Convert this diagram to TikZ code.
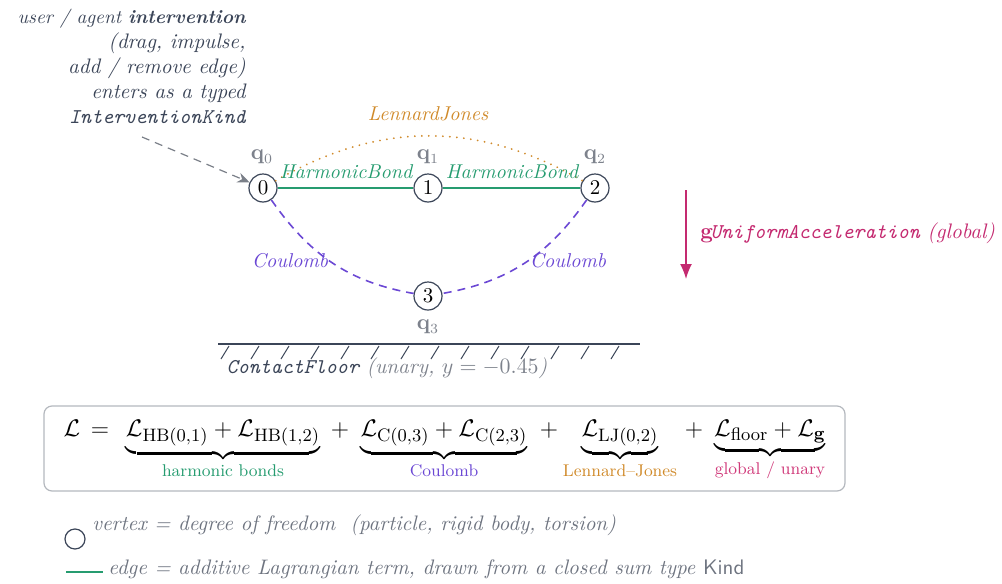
\documentclass[tikz,border=0pt]{standalone}
\usepackage{amsmath}
\usetikzlibrary{arrows.meta}
\definecolor{slate}{HTML}{3B4558}
\definecolor{qgrey}{HTML}{7D828C}
\definecolor{hb}{HTML}{269C70}
\definecolor{lj}{HTML}{D08A2A}
\definecolor{cou}{HTML}{6B48D4}
\definecolor{grav}{HTML}{C42A70}
\definecolor{glob}{HTML}{D03A7A}
\definecolor{leg}{HTML}{6E7480}
\definecolor{boxc}{HTML}{B4B8BE}
\definecolor{ivgrey}{HTML}{7A7F88}
\begin{document}
\begin{tikzpicture}[x=0.5pt,y=0.5pt,
  vert/.style={circle,draw=slate,line width=0.6pt,minimum size=14pt,inner sep=0pt,
    font=\fontsize{10.5}{12}\selectfont},
  qlab/.style={text=qgrey,font=\fontsize{10.5}{12}\selectfont},
  elab/.style={font=\fontsize{10}{12}\selectfont\itshape},
  hbline/.style={draw=hb,line width=1.2pt},
  couline/.style={draw=cou,line width=0.8pt,dash pattern=on 4pt off 3pt},
  ljline/.style={draw=lj,line width=1pt,dash pattern=on 0.01pt off 3.5pt,line cap=round},
  eq/.style={font=\fontsize{12.5}{15}\selectfont,inner sep=0pt},
  legtext/.style={text=leg,font=\fontsize{10.5}{12}\selectfont\itshape,inner sep=0pt}]
\useasboundingbox (0,0) rectangle (1002,-584);

% intervention text
\node[align=right,anchor=east,text=slate,font=\fontsize{10.5}{12.5}\selectfont\itshape,inner sep=0pt]
  (iv) at (246,-66) {{\fontsize{9.6}{12.5}\selectfont user / agent \textbf{intervention}}\\(drag, impulse,\\add / remove edge)\\enters as a typed\\\texttt{\itshape InterventionKind}};

% vertices
\node[vert] (n0) at (263,-188) {0};
\node[vert] (n1) at (428,-188) {1};
\node[vert] (n2) at (595,-188) {2};
\node[vert] (n3) at (428,-296) {3};

\node[qlab] (q0) at (262,-157) {$\mathbf{q}_0$};
\node[qlab] (q1) at (428,-157) {$\mathbf{q}_1$};
\node[qlab] (q2) at (595,-157) {$\mathbf{q}_2$};
\node[qlab] (q3) at (428,-327) {$\mathbf{q}_3$};

% intervention arrow
\coordinate (ivs) at (142,-137);
\draw[ivgrey,line width=0.6pt,dash pattern=on 4pt off 3pt,-{Stealth[length=6pt,width=5pt]}] (ivs) -- (n0);

% edges
\draw[ljline] (n0) to[bend left=30] (n2);
\draw[hbline] (n0) -- (n1);
\draw[hbline] (n1) -- (n2);
\draw[couline] (n0) to[out=-55,in=170] (n3);
\draw[couline] (n2) to[out=-125,in=10] (n3);

\node[elab,text=hb] (hb1) at (346,-172) {HarmonicBond};
\node[elab,text=hb] (hb2) at (512,-172) {HarmonicBond};
\node[elab,text=lj] (ljl) at (428,-114) {LennardJones};
\node[elab,text=cou] (c1) at (290,-261) {Coulomb};
\node[elab,text=cou] (c2) at (568,-261) {Coulomb};

% floor
\coordinate (f1) at (218,-344);
\coordinate (f2) at (640,-344);
\draw[slate,line width=0.6pt] (f1) -- (f2);
\foreach \i in {0,...,13}{
  \draw[slate,line width=0.5pt] (229+30*\i,-346) -- (221+30*\i,-359);
}
\node[font=\fontsize{10.5}{12}\selectfont\itshape,inner sep=0pt] (fl) at (387,-368)
  {\textcolor{slate}{\texttt{\itshape ContactFloor}} \textcolor{qgrey}{(unary, $y=-0.45$)}};

% gravity
\coordinate (g1) at (686,-190);
\coordinate (g2) at (686,-279);
\draw[grav,line width=0.75pt,-{Latex[length=7.5pt,width=6pt]}] (g1) -- (g2);
\node[anchor=west,text=grav,inner sep=0pt,font=\fontsize{10.5}{12}\selectfont] (gl) at (700,-233)
  {$\mathbf{g}$\hspace{-1.5pt}\texttt{\itshape UniformAcceleration} \textit{(global)}};

% Lagrangian box
\draw[boxc,line width=0.6pt,rounded corners=4pt] (44,-406) rectangle (845,-491);
\node[eq,anchor=base] (eL) at (72,-436) {$\mathcal{L}$};
\node[eq,anchor=base] (eeq) at (100,-436) {$=$};
\node[eq,anchor=base] (gr1) at (223,-436) {$\underbrace{\mathcal{L}_{\mathrm{HB}(0,1)}+\mathcal{L}_{\mathrm{HB}(1,2)}}_{\text{\fontsize{8.5}{10}\selectfont\color{hb}harmonic bonds}}$};
\node[eq,anchor=base] (p1) at (340,-436) {$+$};
\node[eq,anchor=base] (gr2) at (444,-436) {$\underbrace{\mathcal{L}_{\mathrm{C}(0,3)}+\mathcal{L}_{\mathrm{C}(2,3)}}_{\text{\fontsize{8.5}{10}\selectfont\color{cou}Coulomb}}$};
\node[eq,anchor=base] (p2) at (549,-436) {$+$};
\node[eq,anchor=base] (gr3) at (620,-436) {$\underbrace{\mathcal{L}_{\mathrm{LJ}(0,2)}}_{\text{\fontsize{8.5}{10}\selectfont\color{lj}Lennard--Jones}}$};
\node[eq,anchor=base] (p3) at (694,-436) {$+$};
\node[eq,anchor=base] (gr4) at (770,-436) {$\underbrace{\mathcal{L}_{\mathrm{floor}}+\mathcal{L}_{\mathbf{g}}}_{\text{\fontsize{8.5}{10}\selectfont\color{glob}global / unary}}$};

% legend
\node[circle,draw=slate,line width=0.6pt,minimum size=10pt,inner sep=0pt] (lv) at (75,-539) {};
\node[legtext,anchor=west] (lvt) at (92,-525) {vertex = degree of freedom\ \ (particle, rigid body, torsion)};
\coordinate (le1) at (66,-572);
\coordinate (le2) at (103,-572);
\draw[hbline,line width=1pt] (le1) -- (le2);
\node[legtext,anchor=west] (let) at (108,-569) {edge = additive Lagrangian term, drawn from a closed sum type \textup{\textsf{Kind}}};
\end{tikzpicture}
\end{document}
